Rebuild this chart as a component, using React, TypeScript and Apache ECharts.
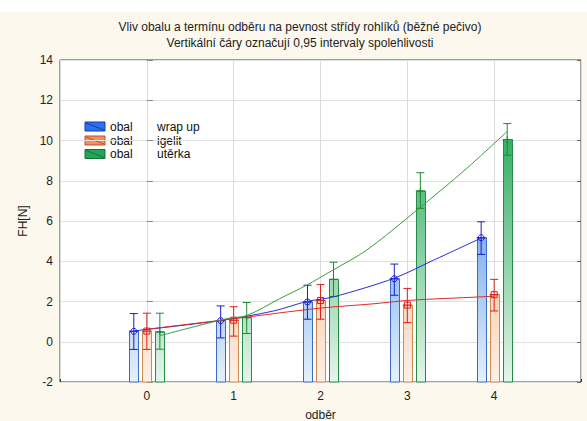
import React, { useEffect, useRef } from "react";
import * as echarts from "echarts";

const categories = [0, 1, 2, 3, 4];
const yTicks = [-2, 0, 2, 4, 6, 8, 10, 12, 14];

const wrapMean = [0.52, 1.05, 1.98, 3.13, 5.17];
const wrapLow = [-0.38, 0.19, 1.12, 2.31, 4.34];
const wrapHigh = [1.4, 1.78, 2.81, 3.86, 5.96];

const igelitMean = [0.53, 1.07, 2.05, 1.82, 2.34];
const igelitLow = [-0.38, 0.28, 1.12, 0.95, 1.53];
const igelitHigh = [1.42, 1.74, 2.84, 2.65, 3.1];

const uterkaMean = [0.49, 1.2, 3.1, 7.49, 10.05];
const uterkaLow = [-0.37, 0.41, 2.25, 6.63, 9.27];
const uterkaHigh = [1.42, 1.95, 3.95, 8.4, 10.84];

// fitted curves (x in axis units, y value)
const wrapFitX = [-0.15, 0.84, 1.46, 1.84, 2.15, 2.85, 3.3, 3.85];
const wrapFitY = [0.54, 1.05, 1.53, 2.0, 2.23, 3.16, 4.05, 5.15];
const igelitFitX = [0, 0.99, 1.99, 2.57, 3.03, 3.84, 4.0];
const igelitFitY = [0.62, 1.14, 1.67, 1.87, 2.06, 2.23, 2.26];
const uterkaFitX = [0.15, 0.92, 1.15, 1.53, 1.84, 2.11, 2.53, 3.11, 3.68, 4.15];
const uterkaFitY = [0.3, 1.15, 1.3, 2.14, 2.81, 3.48, 4.55, 6.54, 8.6, 10.45];

const FONT = "'Liberation Sans', Arial, sans-serif";
const BW = 0.105;

type Sty = {
  top: string;
  bottom: string;
  border: string;
  err: string;
  marker: "circle" | "square" | "plus";
};

function barSeries(name: string, offset: number, means: number[], lows: number[], highs: number[], s: Sty) {
  return {
    type: "custom",
    name,
    z: 2,
    data: categories.map((c, i) => [c + offset, means[i], lows[i], highs[i]]),
    renderItem: (_p: any, api: any) => {
      const x = api.value(0);
      const m = api.value(1);
      const lo = api.value(2);
      const hi = api.value(3);
      const [xl, yTop] = api.coord([x - BW / 2, m]);
      const [xr, yBase] = api.coord([x + BW / 2, -2]);
      const [xc, yHi] = api.coord([x, hi]);
      const [, yLo] = api.coord([x, lo]);
      const [, gTop] = api.coord([x, 10]);
      const cap = 4;
      const errStyle = { stroke: s.err, lineWidth: 1, fill: "none" };
      const children: any[] = [
        {
          type: "rect",
          shape: { x: Math.round(xl) + 0.5, y: yTop, width: Math.round(xr - xl), height: yBase - yTop },
          style: {
            fill: new echarts.graphic.LinearGradient(
              0, gTop, 0, yBase,
              [
                { offset: 0, color: s.top },
                { offset: 1, color: s.bottom },
              ],
              true
            ),
            stroke: s.border,
            lineWidth: 1,
          },
        },
        { type: "line", shape: { x1: xc, y1: yHi, x2: xc, y2: yLo }, style: errStyle },
        { type: "line", shape: { x1: xc - cap, y1: yHi, x2: xc + cap, y2: yHi }, style: errStyle },
        { type: "line", shape: { x1: xc - cap, y1: yLo, x2: xc + cap, y2: yLo }, style: errStyle },
        { type: "line", shape: { x1: xl, y1: yTop, x2: xr, y2: yTop }, style: errStyle },
      ];
      if (s.marker === "circle") {
        children.push({ type: "circle", shape: { cx: xc, cy: yTop, r: 3 }, style: { stroke: s.err, fill: "rgba(0,0,0,0)", lineWidth: 1 } });
      } else if (s.marker === "square") {
        children.push({ type: "rect", shape: { x: xc - 3, y: yTop - 3, width: 6, height: 6 }, style: { stroke: s.err, fill: "rgba(0,0,0,0)", lineWidth: 1 } });
      } else {
        children.push({ type: "line", shape: { x1: xc - 3, y1: yTop, x2: xc + 3, y2: yTop }, style: errStyle });
        children.push({ type: "line", shape: { x1: xc, y1: yTop - 3, x2: xc, y2: yTop + 3 }, style: errStyle });
      }
      return { type: "group", children };
    },
  };
}

function fitSeries(xs: number[], ys: number[], color: string) {
  return {
    type: "line",
    z: 3,
    data: xs.map((x, i) => [x, ys[i]]),
    showSymbol: false,
    smooth: 0.3,
    lineStyle: { color, width: 1 },
  };
}

function legendItem(y: number, fill: string, stroke: string, label: string) {
  return [
    {
      type: "rect",
      shape: { x: 85, y, width: 20, height: 9 },
      style: { fill, stroke, lineWidth: 1 },
    },
    {
      type: "line",
      shape: { x1: 86, y1: y + 1, x2: 104, y2: y + 8 },
      style: { stroke, lineWidth: 1 },
    },
    {
      type: "text",
      style: { text: "obal", x: 110, y: y + 4.5, verticalAlign: "middle", font: `12px ${FONT}`, fill: "#111" },
    },
    {
      type: "text",
      style: { text: label, x: 157, y: y + 4.5, verticalAlign: "middle", font: `12px ${FONT}`, fill: "#111" },
    },
  ];
}

export default function App() {
  const ref = useRef<HTMLDivElement>(null);
  useEffect(() => {
    if (!ref.current) return;
    const chart = echarts.init(ref.current, undefined, { renderer: "svg" });
    chart.setOption({
      animation: false,
      backgroundColor: "transparent",
      textStyle: { fontFamily: FONT },
      grid: {
        left: 60,
        top: 60,
        width: 521,
        height: 322,
        show: true,
        outerBoundsMode: "none",
        containLabel: false,
        backgroundColor: "#ffffff",
        borderColor: "#404040",
        borderWidth: 1,
      },
      xAxis: {
        type: "value",
        min: -1,
        max: 5,
        interval: 1,
        name: "odběr",
        nameLocation: "middle",
        nameGap: 27,
        nameTextStyle: { fontSize: 12, color: "#222", fontFamily: FONT },
        axisLine: { show: false, onZero: false },
        axisTick: { show: true, inside: true, length: 3, lineStyle: { color: "#333" } },
        axisLabel: {
          fontSize: 12,
          color: "#222",
          margin: 8,
          fontFamily: FONT,
          formatter: (v: number) => (categories.indexOf(v) >= 0 ? String(v) : ""),
        },
        splitLine: { show: true, lineStyle: { color: "#dcdcdc", width: 1 } },
      },
      yAxis: [
        {
          type: "value",
          min: -2,
          max: 14,
          interval: 2,
          name: "FH[N]",
          nameLocation: "middle",
          nameGap: 30,
          nameTextStyle: { fontSize: 12, color: "#222", fontFamily: FONT },
          axisLine: { show: false },
          axisTick: { show: true, inside: true, length: 6, lineStyle: { color: "#888" } },
          axisLabel: {
            fontSize: 12,
            color: "#222",
            margin: 7,
            fontFamily: FONT,
            formatter: (v: number) => (yTicks.indexOf(v) >= 0 ? String(v) : ""),
          },
          splitLine: { show: true, lineStyle: { color: "#e0e0e0", width: 1 } },
        },
        {
          type: "value",
          position: "right",
          min: -2,
          max: 14,
          interval: 2,
          axisLine: { show: false },
          axisTick: { show: true, inside: true, length: 4, lineStyle: { color: "#666" } },
          axisLabel: { show: false },
          splitLine: { show: false },
        },
      ],
      graphic: [
        {
          type: "text",
          style: {
            text: "Vliv obalu a termínu odběru na pevnost střídy rohlíků (běžné pečivo)",
            x: 300,
            y: 27,
            align: "center",
            verticalAlign: "middle",
            font: `12px ${FONT}`,
            fill: "#222",
          },
        },
        {
          type: "text",
          style: {
            text: "Vertikální čáry označují 0,95 intervaly spolehlivosti",
            x: 300,
            y: 43,
            align: "center",
            verticalAlign: "middle",
            font: `12px ${FONT}`,
            fill: "#222",
          },
        },
        {
          type: "group",
          z: 100,
          children: [
            ...legendItem(122, "#2a72ee", "#1a3aa8", "wrap up"),
            ...legendItem(136, "#f39058", "#c0502a", "igelit"),
            ...legendItem(149.5, "#26a455", "#167038", "utěrka"),
          ],
        },
      ],
      series: [
        barSeries("wrap up", -0.15, wrapMean, wrapLow, wrapHigh, {
          top: "#3f8ae8",
          bottom: "#e6f0fb",
          border: "#3a6cc6",
          err: "#1c1cd0",
          marker: "circle",
        }),
        barSeries("igelit", 0, igelitMean, igelitLow, igelitHigh, {
          top: "#f2a266",
          bottom: "#fdf0e6",
          border: "#cf8a50",
          err: "#e01c1c",
          marker: "square",
        }),
        barSeries("utěrka", 0.15, uterkaMean, uterkaLow, uterkaHigh, {
          top: "#36b066",
          bottom: "#e4f5ea",
          border: "#278a46",
          err: "#1e8a2e",
          marker: "plus",
        }),
        fitSeries(wrapFitX, wrapFitY, "#2a2ae0"),
        fitSeries(igelitFitX, igelitFitY, "#e02828"),
        fitSeries(uterkaFitX, uterkaFitY, "#3c9c3c"),
      ],
    });
    return () => chart.dispose();
  }, []);
  return (
    <div
      style={{
        position: "fixed",
        left: 0,
        top: 0,
        width: 587,
        height: 421,
        background: "linear-gradient(#ffffff 0px, #ffffff 12px, #fcf8ee 12px, #fcf8ee 100%)",
      }}
    >
      <div ref={ref} style={{ width: 587, height: 421 }} />
    </div>
  );
}
